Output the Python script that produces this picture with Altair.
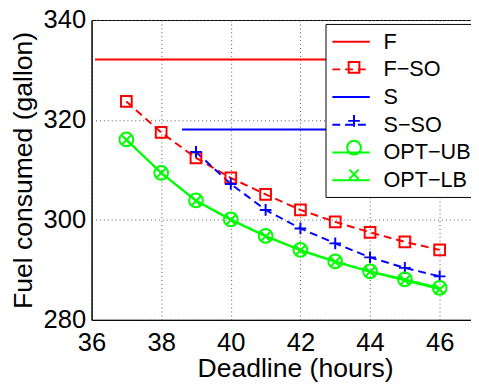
import altair as alt
import pandas as pd

# ---- data ----
series_names = ["F", "F\u2212SO", "S", "S\u2212SO", "OPT\u2212UB", "OPT\u2212LB"]
series_colors = ["#ff0000", "#ff0000", "#0000ff", "#0000ff", "#00ff00", "#00ff00"]

f_x = [36.1, 47.0]
f_y = [332.1, 332.1]
s_x = [38.6, 47.0]
s_y = [318.1, 318.1]

deadline = [37, 38, 39, 40, 41, 42, 43, 44, 45, 46]
f_so = [323.7, 317.5, 312.4, 308.4, 305.1, 302.0, 299.6, 297.5, 295.6, 294.0]
s_so_x = [39, 40, 41, 42, 43, 44, 45, 46]
s_so = [313.6, 307.2, 302.0, 298.3, 295.3, 292.5, 290.4, 288.7]
opt_ub = [316.1, 309.4, 303.9, 300.1, 296.8, 294.0, 291.7, 289.7, 288.1, 286.4]
opt_lb = [316.0, 309.4, 303.8, 300.0, 296.7, 293.9, 291.6, 289.6, 287.9, 286.1]

x_ticks = [36, 38, 40, 42, 44, 46]
y_ticks = [280, 300, 320, 340]

rows = []
for x, y in zip(f_x, f_y):
    rows.append({"series": series_names[0], "x": x, "y": y})
for x, y in zip(deadline, f_so):
    rows.append({"series": series_names[1], "x": x, "y": y})
for x, y in zip(s_x, s_y):
    rows.append({"series": series_names[2], "x": x, "y": y})
for x, y in zip(s_so_x, s_so):
    rows.append({"series": series_names[3], "x": x, "y": y})
for x, y in zip(deadline, opt_ub):
    rows.append({"series": series_names[4], "x": x, "y": y})
for x, y in zip(deadline, opt_lb):
    rows.append({"series": series_names[5], "x": x, "y": y})
df = pd.DataFrame(rows)

FONT = "Liberation Sans"

dash_range = [[1, 0], [8, 5], [1, 0], [8, 5], [1, 0], [1, 0]]
shape_range = [
    "M0,0Z",
    "M-0.78,-0.78L0.78,-0.78L0.78,0.78L-0.78,0.78Z",
    "M0,0Z",
    "M-0.85,0L0.85,0M0,-0.85L0,0.85",
    "circle",
    "M-0.68,-0.68L0.68,0.68M-0.68,0.68L0.68,-0.68",
]

x_enc = alt.X(
    "x:Q",
    scale=alt.Scale(domain=[36, 46.9], nice=False, zero=False),
    axis=alt.Axis(values=x_ticks, title="Deadline (hours)", labelPadding=10,
                  titlePadding=1, titleX=207, titleAnchor="start", titleAlign="center"),
)
y_enc = alt.Y(
    "y:Q",
    scale=alt.Scale(domain=[280, 340], nice=False, zero=False),
    axis=alt.Axis(values=y_ticks, title="Fuel consumed (gallon)", labelPadding=6,
                  titlePadding=6),
)

legend_lines = alt.Legend(
    title=None, orient="none", legendX=238, legendY=4, padding=6,
    fillColor="white", strokeColor="black",
    symbolType="M-1.73,0L1.73,0", symbolSize=484, symbolStrokeWidth=2,
    symbolOffset=8,
    labelFontSize=22, labelFont=FONT, labelColor="black", labelOffset=21,
    rowPadding=5.2,
)
legend_marks = alt.Legend(
    title=None, orient="none", legendX=238, legendY=4, padding=6,
    symbolSize=196, symbolStrokeWidth=2, symbolFillColor="transparent",
    symbolOffset=12,
    labelFontSize=22, labelFont=FONT, labelExpr="' '", labelOffset=5,
    rowPadding=5.2,
)

lines = alt.Chart(df).mark_line(strokeWidth=2, clip=True).encode(
    x=x_enc,
    y=y_enc,
    color=alt.Color("series:N", scale=alt.Scale(domain=series_names, range=series_colors),
                    legend=legend_lines),
    strokeDash=alt.StrokeDash("series:N", scale=alt.Scale(domain=series_names, range=dash_range),
                              legend=legend_lines),
    detail="series:N",
)

points = alt.Chart(df).transform_filter(
    alt.FieldOneOfPredicate(field="series", oneOf=series_names[1::2] + [series_names[4]])
).mark_point(filled=False, size=196, strokeWidth=2, opacity=1, clip=True).encode(
    x=x_enc,
    y=y_enc,
    color=alt.Color("series:N", scale=alt.Scale(domain=series_names, range=series_colors),
                    legend=legend_marks),
    shape=alt.Shape("series:N", scale=alt.Scale(domain=series_names, range=shape_range),
                    legend=legend_marks),
)

chart = alt.layer(lines, points).resolve_scale(
    color="independent", strokeDash="independent", shape="independent"
).properties(
    width=386, height=305,
    autosize=alt.AutoSizeParams(type="none"),
    padding={"left": 85, "top": 9, "right": 0, "bottom": 60},
).configure_view(
    stroke="black", strokeWidth=1
).configure_axis(
    labelFont=FONT, titleFont=FONT, labelFontSize=26, titleFontSize=27,
    labelColor="black", titleColor="black", titleFontWeight="normal",
    domainColor="black", domainWidth=1, ticks=False, tickSize=0,
    grid=True, gridColor="#555555", gridDash=[1, 3], gridWidth=1,
    labelFlush=False,
)

chart.save("out.html", embed_options={"renderer": "svg", "actions": False})
